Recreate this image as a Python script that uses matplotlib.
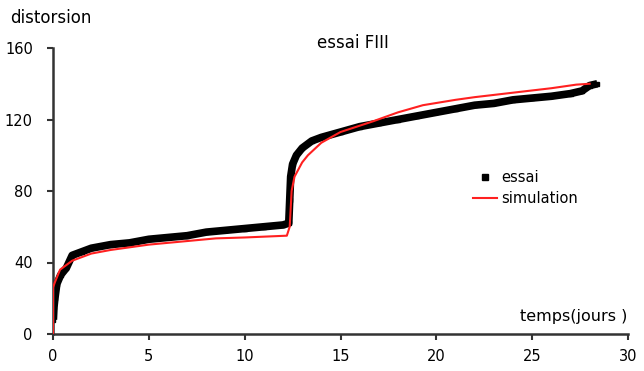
import matplotlib
matplotlib.use("Agg")
import matplotlib.pyplot as plt
from matplotlib.lines import Line2D

# mesures (essai FIII)
essai_t = [0.02, 0.05, 0.1, 0.2, 0.4, 0.7, 1.0, 1.5, 2, 3, 4, 5, 6, 7, 8, 9, 10, 11, 12,
           12.3, 12.35, 12.4, 12.5, 12.7, 13, 13.5, 14, 15, 16, 17, 18, 19, 20, 21, 22,
           23, 24, 25, 26, 27, 27.6, 28, 28.4]
essai_v = [8, 15, 20, 28, 33, 37, 44, 46, 48, 50, 51, 53, 54, 55, 57, 58, 59, 60, 61,
           62, 75, 88, 95, 100, 104, 108, 110, 113, 116, 118, 120, 122, 124, 126, 128,
           129, 131, 132, 133, 134.5, 136, 139, 140]

# simulation
simu_t = [0, 0, 0.1, 0.37, 1.0, 2, 3, 5, 7, 8.5, 10, 12.2, 12.35, 12.45, 12.6, 13, 13.3,
          14, 15, 16.7, 18, 19.3, 21, 22, 24, 26, 27.3, 28]
simu_v = [0, 26, 29, 36, 41, 45, 47, 50, 52, 53.5, 54, 55, 60, 80, 88, 96, 100,
          107, 113, 119, 124, 128, 131, 132.5, 135, 137.5, 139.5, 140]

xticks = [0, 5, 10, 15, 20, 25, 30]
yticks = [0, 40, 80, 120, 160]

fig = plt.figure(figsize=(6.44, 3.71), dpi=100)
ax = fig.add_axes([53 / 644, 1 - 334 / 371, 575 / 644, 286 / 371])

ax.plot(essai_t, essai_v, color="black", lw=5.5, marker="s", ms=3.5,
        solid_capstyle="butt", zorder=2)
ax.plot(simu_t, simu_v, color="#ff2020", lw=1.5, zorder=3)

ax.set_xlim(0, 30)
ax.set_ylim(0, 160)
ax.set_xticks(xticks)
ax.set_yticks(yticks)
for s in ["top", "right"]:
    ax.spines[s].set_visible(False)
for s in ["left", "bottom"]:
    ax.spines[s].set_linewidth(1.8)
    ax.spines[s].set_color("#333333")
ax.tick_params(length=4.5, width=1.5, color="#333333", labelsize=10.5)
ax.tick_params(axis="x", pad=6)
ax.tick_params(axis="y", pad=10)

ax.set_title("essai FIII", fontsize=12, x=(353 - 53) / 575, y=0.97)
fig.text(10 / 644, 1 - 18 / 371, "distorsion", fontsize=12, va="center", ha="left")
fig.text(627 / 644, 1 - 316 / 371, "temps(jours )", fontsize=11.5, va="center", ha="right")

handles = [Line2D([], [], color="black", marker="s", ms=4, ls="none"),
           Line2D([], [], color="#ff2020", lw=1.5)]
ax.legend(handles, ["essai", "simulation"], loc="upper left",
          bbox_to_anchor=(0.708, 0.62), frameon=False, fontsize=10.5,
          handlelength=1.6, handletextpad=0.3, labelspacing=0.4)

fig.savefig("out.png", dpi=100)
